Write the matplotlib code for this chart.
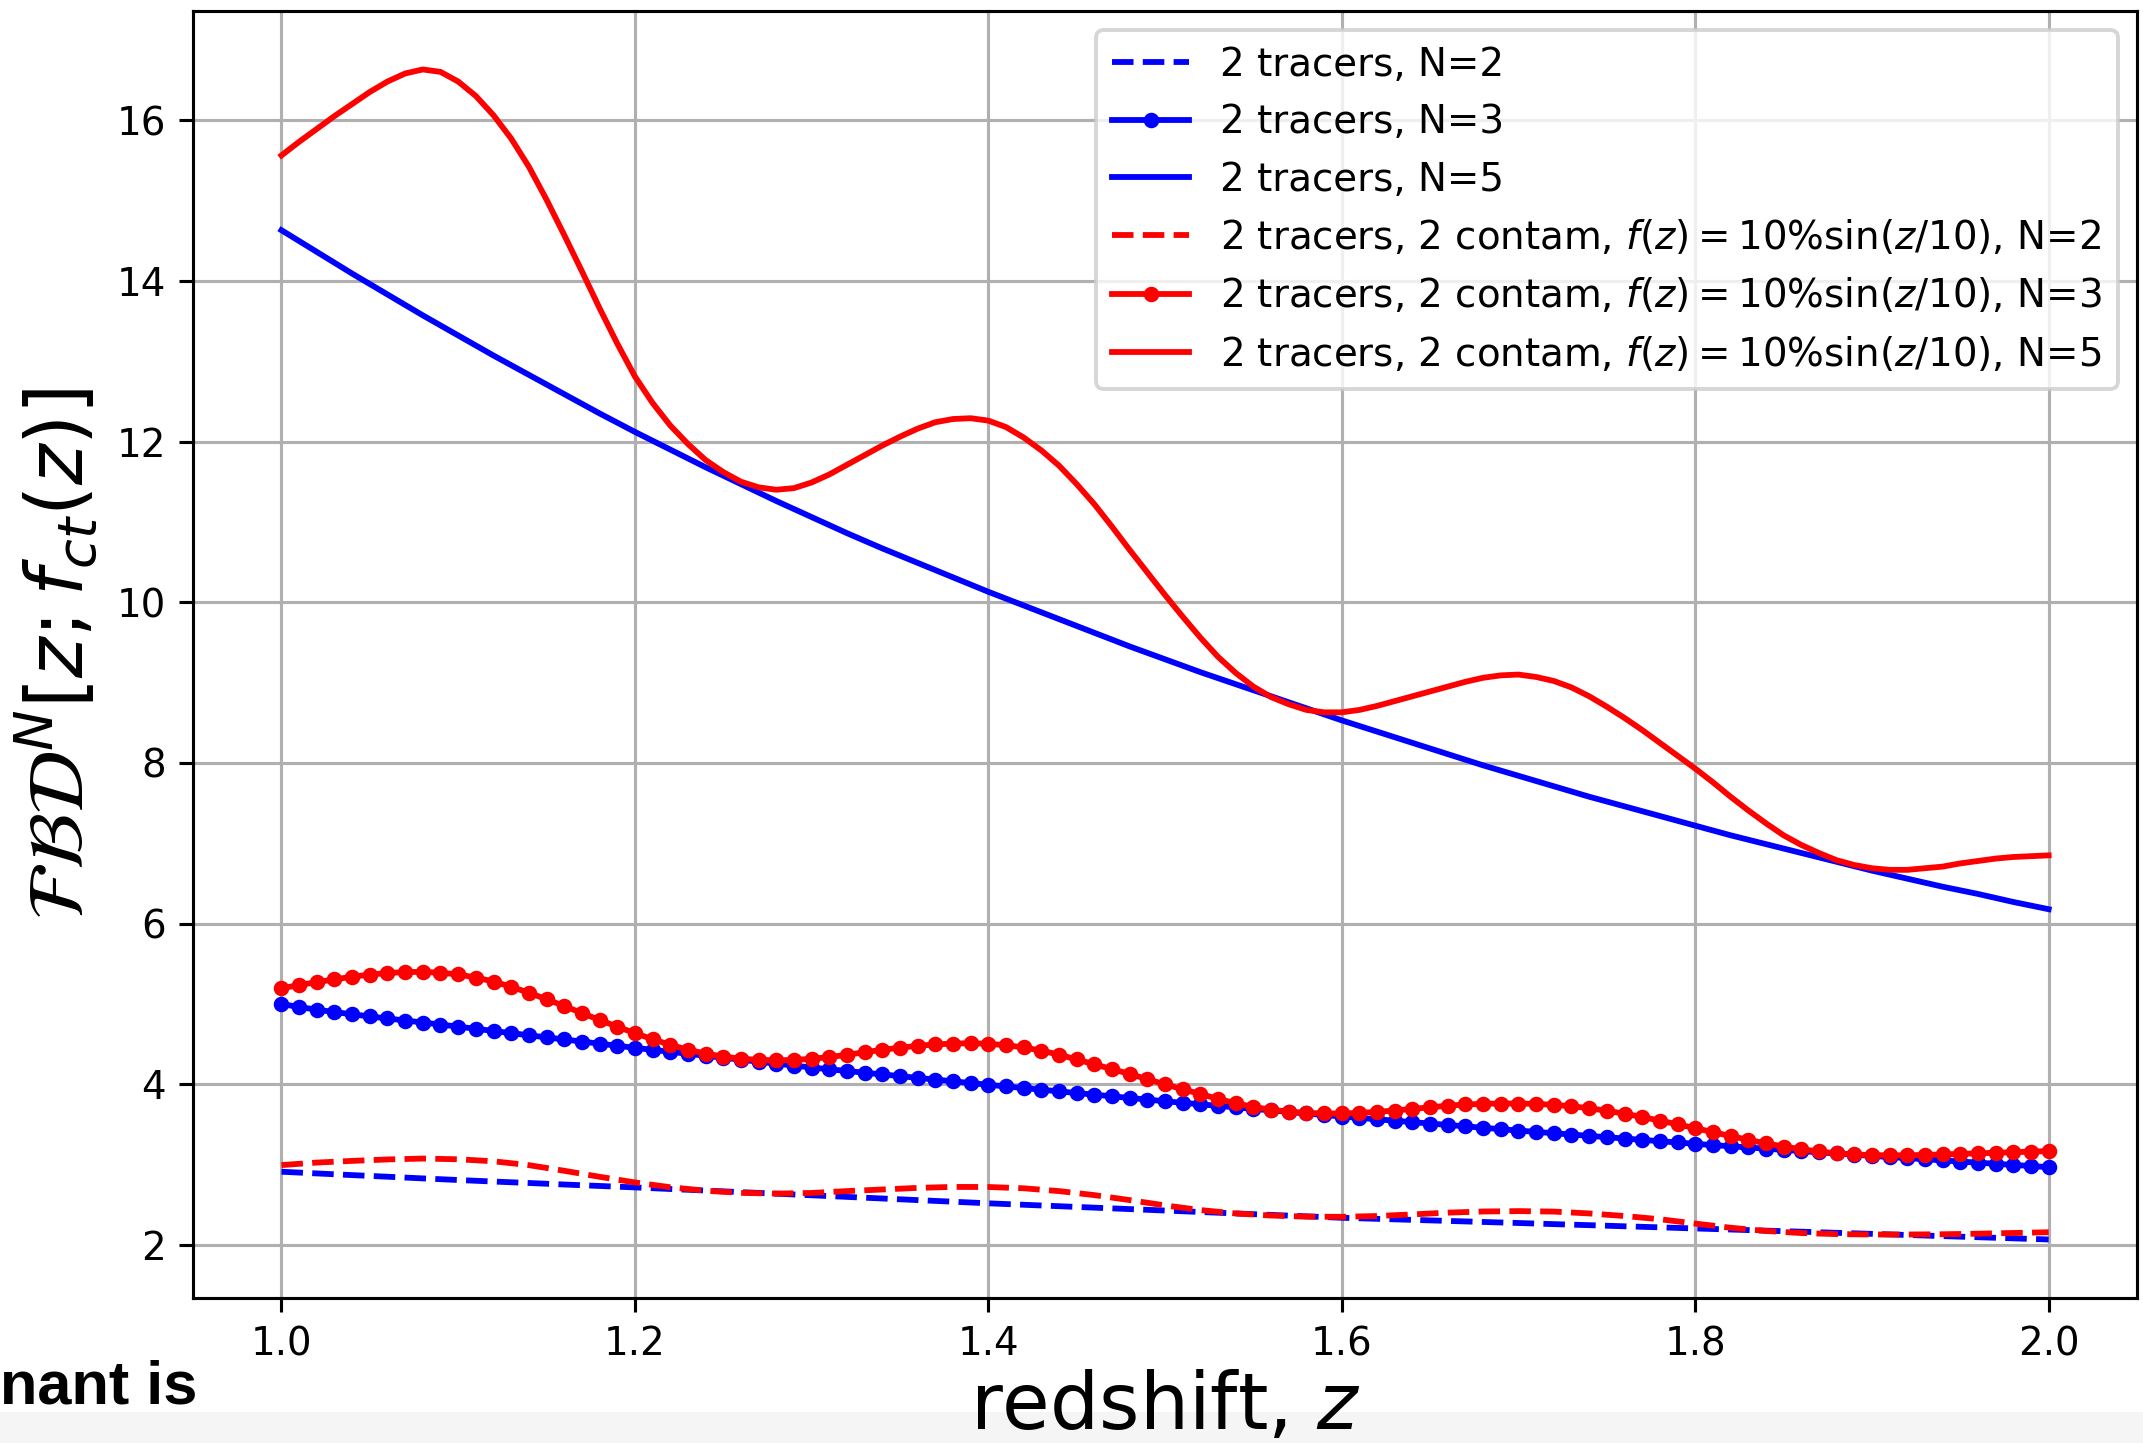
import numpy as np
import matplotlib
matplotlib.use("Agg")
import matplotlib.pyplot as plt
from matplotlib.patches import Rectangle

# ---------------- data ----------------
# coarse grid (step 0.02) for the N=2 curves and the blue N=5 curve
z_coarse = np.linspace(1.0, 2.0, 51)
# fine grid (step 0.01) for the N=3 curves (one marker per point) and red N=5
z_fine = np.linspace(1.0, 2.0, 101)

blue_N2 = [2.913, 2.892, 2.871, 2.851, 2.830, 2.810,
           2.791, 2.773, 2.754, 2.736, 2.718,
           2.698, 2.679, 2.659, 2.640, 2.620,
           2.600, 2.580, 2.560, 2.540, 2.520,
           2.502, 2.484, 2.466, 2.448, 2.430,
           2.412, 2.394, 2.376, 2.358, 2.340,
           2.327, 2.314, 2.301, 2.288, 2.275,
           2.261, 2.248, 2.234, 2.221, 2.207,
           2.194, 2.180, 2.167, 2.153, 2.140,
           2.126, 2.112, 2.098, 2.084, 2.070]

red_N2 = [2.996, 3.027, 3.048, 3.066, 3.077, 3.068,
          3.043, 2.995, 2.925, 2.850, 2.780,
          2.720, 2.677, 2.650, 2.641, 2.649,
          2.672, 2.692, 2.712, 2.724, 2.723,
          2.707, 2.672, 2.622, 2.560, 2.494,
          2.436, 2.394, 2.368, 2.354, 2.352,
          2.362, 2.382, 2.404, 2.418, 2.423,
          2.417, 2.394, 2.362, 2.322, 2.268,
          2.216, 2.176, 2.150, 2.137, 2.132,
          2.132, 2.135, 2.142, 2.151, 2.160]

blue_N3 = [5.000, 4.963, 4.930, 4.900, 4.872, 4.846, 4.820, 4.795, 4.770, 4.745,
           4.718, 4.692, 4.665, 4.638, 4.611, 4.585, 4.559, 4.533, 4.507, 4.481,
           4.455, 4.430, 4.405, 4.381, 4.356, 4.332, 4.307, 4.283, 4.258, 4.234,
           4.210, 4.188, 4.167, 4.145, 4.124, 4.103, 4.081, 4.060, 4.038, 4.017,
           3.995, 3.975, 3.954, 3.934, 3.913, 3.893, 3.872, 3.852, 3.831, 3.811,
           3.790, 3.771, 3.752, 3.733, 3.714, 3.695, 3.676, 3.657, 3.638, 3.619,
           3.600, 3.583, 3.565, 3.548, 3.530, 3.513, 3.495, 3.478, 3.460, 3.443,
           3.425, 3.409, 3.392, 3.376, 3.359, 3.343, 3.326, 3.310, 3.293, 3.277,
           3.260, 3.245, 3.230, 3.215, 3.200, 3.185, 3.170, 3.155, 3.140, 3.125,
           3.110, 3.096, 3.082, 3.068, 3.054, 3.040, 3.026, 3.012, 2.998, 2.984,
           2.970]

red_N3 = [5.195, 5.237, 5.272, 5.306, 5.340, 5.366, 5.386, 5.398, 5.400, 5.390,
          5.368, 5.330, 5.280, 5.215, 5.140, 5.060, 4.975, 4.888, 4.802, 4.718,
          4.638, 4.562, 4.492, 4.432, 4.383, 4.346, 4.320, 4.305, 4.300, 4.304,
          4.318, 4.340, 4.368, 4.400, 4.430, 4.457, 4.480, 4.497, 4.508, 4.512,
          4.505, 4.488, 4.460, 4.420, 4.370, 4.310, 4.250, 4.190, 4.130, 4.065,
          4.000, 3.940, 3.880, 3.820, 3.765, 3.720, 3.685, 3.660, 3.645, 3.638,
          3.638, 3.645, 3.658, 3.675, 3.695, 3.715, 3.735, 3.750, 3.758, 3.762,
          3.762, 3.757, 3.746, 3.728, 3.703, 3.672, 3.635, 3.594, 3.550, 3.503,
          3.455, 3.406, 3.357, 3.310, 3.266, 3.227, 3.193, 3.165, 3.143, 3.128,
          3.120, 3.117, 3.118, 3.122, 3.128, 3.135, 3.142, 3.149, 3.156, 3.163,
          3.170]

blue_N5 = [14.63, 14.36, 14.09, 13.83, 13.57, 13.32,
           13.07, 12.83, 12.59, 12.35, 12.12,
           11.90, 11.68, 11.47, 11.26, 11.06,
           10.86, 10.67, 10.49, 10.31, 10.13,
           9.96, 9.79, 9.62, 9.45, 9.29,
           9.13, 8.98, 8.83, 8.68, 8.53,
           8.39, 8.25, 8.11, 7.97, 7.84,
           7.71, 7.58, 7.46, 7.34, 7.22,
           7.10, 6.99, 6.88, 6.77, 6.66,
           6.56, 6.46, 6.37, 6.27, 6.18]

red_N5 = [15.56, 15.73, 15.89, 16.05, 16.20, 16.35, 16.48, 16.58, 16.63, 16.60,
          16.48, 16.30, 16.06, 15.77, 15.42, 15.01, 14.57, 14.12, 13.66, 13.22,
          12.81, 12.48, 12.20, 11.97, 11.77, 11.62, 11.50, 11.43, 11.40, 11.42,
          11.49, 11.59, 11.71, 11.83, 11.95, 12.06, 12.16, 12.24, 12.28, 12.29,
          12.26, 12.18, 12.05, 11.89, 11.70, 11.47, 11.22, 10.94, 10.65, 10.37,
          10.09, 9.82, 9.56, 9.32, 9.12, 8.95, 8.82, 8.73, 8.66, 8.63,
          8.63, 8.66, 8.71, 8.77, 8.83, 8.89, 8.95, 9.01, 9.06, 9.09,
          9.10, 9.07, 9.02, 8.94, 8.83, 8.70, 8.56, 8.41, 8.25, 8.09,
          7.93, 7.76, 7.58, 7.41, 7.25, 7.10, 6.98, 6.88, 6.79, 6.73,
          6.69, 6.67, 6.67, 6.69, 6.71, 6.75, 6.78, 6.81, 6.83, 6.84,
          6.85]

contam = r"2 tracers, 2 contam, $f(z) = 10\%\sin(z/10)$"
labels = ["2 tracers, N=2", "2 tracers, N=3", "2 tracers, N=5",
          contam + ", N=2", contam + ", N=3", contam + ", N=5"]

# ---------------- figure ----------------
DPI = 279
fig = plt.figure(figsize=(2143 / DPI, 1443 / DPI), dpi=DPI)
ax = fig.add_axes([0.0901, 0.1005, 0.9071, 0.8919])

ax.plot(z_coarse, blue_N2, "b--", label=labels[0])
ax.plot(z_fine, blue_N3, "b.-", label=labels[1])
ax.plot(z_coarse, blue_N5, "b-", label=labels[2])
ax.plot(z_coarse, red_N2, "r--", label=labels[3])
ax.plot(z_fine, red_N3, "r.-", label=labels[4])
ax.plot(z_fine, red_N5, "r-", label=labels[5])

ax.grid(True)
ax.set_xticks([1.0, 1.2, 1.4, 1.6, 1.8, 2.0])
ax.set_yticks([2, 4, 6, 8, 10, 12, 14, 16])
ax.set_xlabel(r"redshift, $z$", fontsize=20, labelpad=1.5)
ax.set_ylabel(r"$\mathcal{FBD}^N[z; f_{ct}(z)]$", fontsize=20)
ax.legend(loc="upper right")

# surrounding slide remnants
fig.patches.append(Rectangle((0, 0), 1, 31 / 1443, transform=fig.transFigure,
                             facecolor="#f5f5f5", edgecolor="none", zorder=-10))
fig.text(197 / 2143, 40 / 1443, "nant is", ha="right", va="baseline",
         fontsize=15.8, fontweight="bold", family="Liberation Sans")

fig.savefig("out.png", dpi=DPI)
